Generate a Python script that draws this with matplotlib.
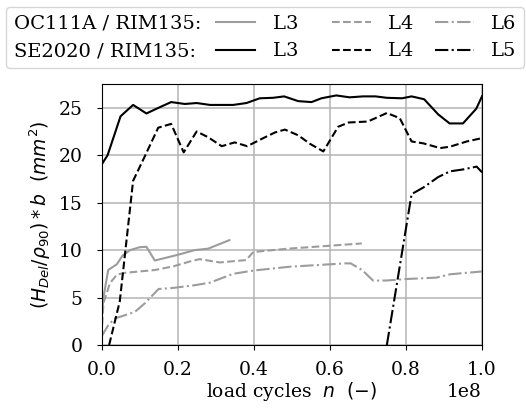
"""Deleted area H_Del/rho_90 * b over load cycles, OC111A vs SE2020 on RIM135."""

import matplotlib

matplotlib.use("Agg")
import matplotlib.pyplot as plt
from matplotlib.lines import Line2D

plt.rcParams["font.family"] = "DejaVu Serif"
plt.rcParams["font.size"] = 13.5

# load cycles in units of 1e8
SE_L3_N = [0, 0.016, 0.05, 0.083, 0.118, 0.15, 0.183, 0.219, 0.25, 0.285, 0.346,
           0.381, 0.416, 0.451, 0.48, 0.517, 0.552, 0.578, 0.617, 0.652, 0.687,
           0.72, 0.75, 0.79, 0.815, 0.848, 0.885, 0.915, 0.95, 0.985, 1.0]
SE_L3 = [19.0, 20.0, 24.1, 25.3, 24.4, 25.0, 25.6, 25.4, 25.5, 25.3, 25.3,
         25.5, 26.0, 26.05, 26.2, 25.7, 25.6, 26.0, 26.3, 26.1, 26.2,
         26.2, 26.05, 26.0, 26.2, 25.9, 24.3, 23.35, 23.35, 24.9, 26.2]

SE_L4_N = [0.02, 0.048, 0.083, 0.114, 0.149, 0.183, 0.216, 0.25, 0.28, 0.316,
           0.35, 0.383, 0.42, 0.456, 0.482, 0.517, 0.548, 0.583, 0.622, 0.65,
           0.70, 0.75, 0.784, 0.815, 0.846, 0.89, 0.916, 0.96, 1.0]
SE_L4 = [0.0, 4.6, 17.3, 19.9, 22.9, 23.3, 20.3, 22.5, 21.9, 20.95,
         21.35, 20.95, 21.7, 22.4, 22.7, 22.1, 21.2, 20.4, 23.0, 23.45,
         23.55, 24.45, 23.9, 21.45, 21.25, 20.75, 20.9, 21.45, 21.8]

SE_L5_N = [0.75, 0.815, 0.846, 0.885, 0.916, 0.95, 0.986, 1.0]
SE_L5 = [0.0, 15.9, 16.6, 17.7, 18.3, 18.5, 18.8, 18.2]

OC_L3_N = [0, 0.005, 0.0175, 0.04, 0.055, 0.075, 0.1, 0.118, 0.14, 0.2, 0.245,
           0.28, 0.336]
OC_L3 = [2.5, 5.0, 7.9, 8.5, 9.4, 10.0, 10.3, 10.35, 8.9, 9.5, 10.0,
         10.15, 11.05]

OC_L4_N = [0, 0.005, 0.022, 0.04, 0.06, 0.14, 0.19, 0.232, 0.258, 0.311, 0.38,
           0.399, 0.49, 0.684]
OC_L4 = [1.0, 4.4, 6.5, 7.4, 7.6, 7.9, 8.3, 8.8, 9.05, 8.7, 8.95,
         9.8, 10.15, 10.7]

OC_L6_N = [0, 0.018, 0.035, 0.055, 0.088, 0.114, 0.15, 0.185, 0.245, 0.285,
           0.346, 0.4, 0.495, 0.64, 0.655, 0.685, 0.714, 0.75, 0.80, 0.88,
           0.916, 1.0]
OC_L6 = [0.9, 2.1, 2.8, 3.05, 3.5, 4.4, 5.9, 6.0, 6.3, 6.57,
         7.5, 7.85, 8.25, 8.6, 8.6, 7.9, 6.78, 6.8, 6.95, 7.1,
         7.45, 7.75]

GREY = "#9c9c9c"
LW = 1.5


def cycles(n):
    return [v * 1e8 for v in n]


def main():
    fig = plt.figure(figsize=(5.26, 4.09), dpi=100)
    ax = fig.add_axes([0.193, 0.1565, 0.7233, 0.638])

    ax.plot(cycles(OC_L3_N), OC_L3, "-", color=GREY, lw=LW)
    ax.plot(cycles(OC_L4_N), OC_L4, "--", color=GREY, lw=LW)
    ax.plot(cycles(OC_L6_N), OC_L6, "-.", color=GREY, lw=LW)
    ax.plot(cycles(SE_L3_N), SE_L3, "-", color="k", lw=LW)
    ax.plot(cycles(SE_L4_N), SE_L4, "--", color="k", lw=LW)
    ax.plot(cycles(SE_L5_N), SE_L5, "-.", color="k", lw=LW)

    ax.set_xlim(0, 1e8)
    ax.set_ylim(0, 27.5)
    ax.set_yticks([0, 5, 10, 15, 20, 25])
    ax.tick_params(axis="y", pad=10)
    ax.tick_params(axis="x", pad=8)
    ax.grid(True, color="#b4b4b4", lw=1.1)
    ax.set_axisbelow(True)
    ax.set_xlabel(r"load cycles  $n$  $(-)$", labelpad=1)
    ax.set_ylabel(r"$(H_{Del}/\rho_{90})*b\ \ (mm^2)$", labelpad=4)

    blank = Line2D([], [], linestyle="none")
    handles = [
        blank, blank,
        Line2D([], [], ls="-", color=GREY, lw=LW), Line2D([], [], ls="-", color="k", lw=LW),
        Line2D([], [], ls="--", color=GREY, lw=LW), Line2D([], [], ls="--", color="k", lw=LW),
        Line2D([], [], ls="-.", color=GREY, lw=LW), Line2D([], [], ls="-.", color="k", lw=LW),
    ]
    # trailing blanks widen the L3/L4 columns like in the original
    labels = ["OC111A / RIM135:", "SE2020 / RIM135:", "L3   ", "L3   ",
              "L4 ", "L4 ", "L6", "L5"]
    leg = fig.legend(handles, labels, ncol=4, loc="upper left", fontsize=14,
                     bbox_to_anchor=(6 / 526, 1 - 7 / 409), borderaxespad=0,
                     columnspacing=0.77, handletextpad=0.9, handlelength=2.0)
    # first column holds plain text: drop its handle space
    first_col = leg._legend_handle_box.get_children()[0]
    for row in first_col.get_children():
        row.sep = 0
        row.get_children()[0].width = 0

    fig.savefig("out.png", dpi=100)


if __name__ == "__main__":
    main()
